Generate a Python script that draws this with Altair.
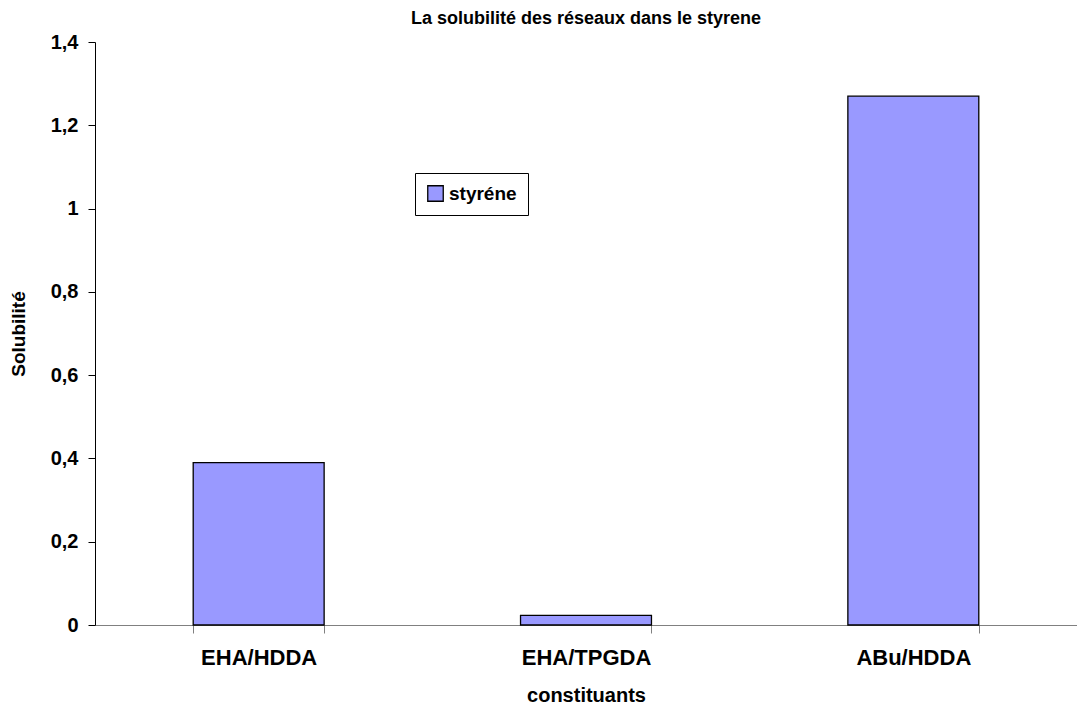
import altair as alt
import pandas as pd

categories = ["EHA/HDDA", "EHA/TPGDA", "ABu/HDDA"]
values = [0.39, 0.023, 1.27]
series = ["styréne", "styréne", "styréne"]

df = pd.DataFrame({"constituants": categories, "Solubilite": values, "serie": series})

FONT = "Liberation Sans"

chart = alt.Chart(df).mark_bar(
    stroke="#000000", strokeWidth=1.3
).encode(
    x=alt.X("constituants:N", sort=categories, title="constituants",
            scale=alt.Scale(paddingInner=0.6, paddingOuter=0.3),
            axis=alt.Axis(labelAngle=0, tickBand="extent", domainColor="#808080",
                          tickColor="#808080", tickSize=8, labelPadding=14,
                          titlePadding=17, labelFontSize=22, titleFontSize=20,
                          labelColor="#000000", titleColor="#000000",
                          labelFont=FONT, titleFont=FONT, labelFontWeight="bold",
                          titleFontWeight="bold", grid=False)),
    y=alt.Y("Solubilite:Q", title="Solubilité",
            scale=alt.Scale(domain=[0, 1.4], nice=False),
            axis=alt.Axis(values=[0, 0.2, 0.4, 0.6, 0.8, 1.0, 1.2, 1.4],
                          labelExpr="replace(format(datum.value, '~g'), '.', ',')",
                          domainColor="#000000", tickColor="#000000", tickSize=7,
                          labelPadding=10, titlePadding=22, labelFontSize=20,
                          titleFontSize=19, labelColor="#000000", titleColor="#000000",
                          labelFont=FONT, titleFont=FONT, labelFontWeight="bold",
                          titleFontWeight="bold", grid=False)),
    color=alt.Color("serie:N", scale=alt.Scale(range=["#9999FF"]),
                    legend=alt.Legend(title=None, orient="none", legendX=320, legendY=131,
                                      strokeColor="#000000", padding=11,
                                      symbolType="square", symbolSize=240,
                                      symbolStrokeColor="#000000", symbolStrokeWidth=1.3,
                                      labelFont=FONT, labelFontSize=19,
                                      labelFontWeight="bold", labelColor="#000000",
                                      fillColor="#FFFFFF")),
).properties(
    width=982, height=583,
    title=alt.Title("La solubilité des réseaux dans le styrene", font=FONT, fontSize=18,
                    fontWeight="bold", color="#000000", anchor="middle", offset=4),
    autosize=alt.AutoSizeParams(type="none"),
    padding={"left": 87, "top": 34, "right": 0, "bottom": 79},
).configure_view(stroke=None)

chart.save("out.html", embed_options={"renderer": "svg", "actions": False})
